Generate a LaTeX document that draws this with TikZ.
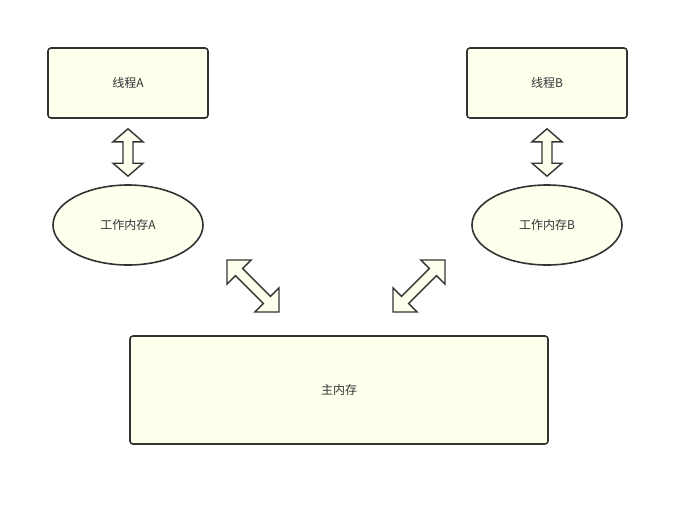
\documentclass[tikz,border=0pt]{standalone}
\usepackage{fontspec}
\usepackage{tikz}
\usetikzlibrary{positioning, calc, shapes.geometric}
\newfontfamily\cjk{Noto Sans CJK SC}
\definecolor{PaleFill}{HTML}{FFFFEE}
\definecolor{InkGray}{HTML}{333333}

% fat double arrow: from, to, head length, head half width
\newcommand{\fatarrow}[4]{%
  \draw[arrowfill] (#1)
    -- ($(#1)!#3!(#2)!#4!90:(#2)$) -- ($(#1)!#3!(#2)!5pt!90:(#2)$)
    -- ($(#2)!#3!(#1)!5pt!-90:(#1)$) -- ($(#2)!#3!(#1)!#4!-90:(#1)$)
    -- (#2)
    -- ($(#2)!#3!(#1)!#4!90:(#1)$) -- ($(#2)!#3!(#1)!5pt!90:(#1)$)
    -- ($(#1)!#3!(#2)!5pt!-90:(#2)$) -- ($(#1)!#3!(#2)!#4!-90:(#2)$)
    -- cycle;}

\begin{document}
\begin{tikzpicture}[x=1pt, y=-1pt, font=\cjk\fontsize{12}{14}\selectfont,
    box/.style={draw=InkGray, fill=PaleFill, line width=1.6pt, rounded corners=3pt, text=InkGray},
    memoval/.style={ellipse, draw=InkGray, fill=PaleFill, line width=1.6pt, text=InkGray,
                    minimum width=150pt, minimum height=80pt, inner sep=0pt},
    arrowfill/.style={draw=InkGray, fill=PaleFill, line width=1.4pt, line join=miter}]
  \useasboundingbox[fill=white] (0,0) rectangle (689,507);

  % Threads
  \node[box, minimum width=160pt, minimum height=70pt] (threadA) at (128,83) {线程A};
  \node[box, minimum width=160pt, minimum height=70pt] (threadB) at (547,83) {线程B};

  % Working memories
  \node[memoval] (memA) at (128,225) {工作内存A};
  \node[memoval] (memB) at (547,225) {工作内存B};

  % Main memory
  \node[box, minimum width=418pt, minimum height=108pt] (mainmem) at (339,390) {主内存};

  % Arrow ends
  \coordinate (tA1) at ($(threadA.south)+(0,10)$);
  \coordinate (tA2) at ($(memA.north)+(0,-8)$);
  \coordinate (tB1) at ($(threadB.south)+(0,10)$);
  \coordinate (tB2) at ($(memB.north)+(0,-8)$);
  \coordinate (dA1) at (227,260);
  \coordinate (dA2) at (279,312);
  \coordinate (dB1) at (445,260);
  \coordinate (dB2) at (393,312);

  % Arrows
  \fatarrow{tA1}{tA2}{13pt}{15pt}
  \fatarrow{tB1}{tB2}{13pt}{15pt}
  \fatarrow{dA1}{dA2}{17pt}{17pt}
  \fatarrow{dB1}{dB2}{17pt}{17pt}
\end{tikzpicture}
\end{document}
